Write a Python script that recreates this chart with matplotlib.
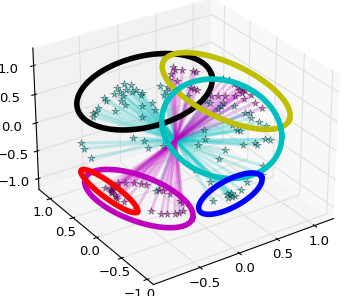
import numpy as np
import matplotlib
matplotlib.use("Agg")
import matplotlib.pyplot as plt
from matplotlib.colors import to_rgba
from mpl_toolkits.mplot3d import Axes3D

hub = (-.04, .037, .011)

cyan_x = [.02,-.07,-.06,0,.07,.05,.10,.14,.12,-.12,-.05,-.23,-.23,-.09,-.08,-.34,-.38,-.41,-.42,-.20,.08,.18,.18,.02,.34,.41,.37,.33,
          .55,.71,.69,.83,.80,.76,.92,.99,1.03,1.02,1.07,1.12,.81,.83,.86,.53,.49,1.04,1.09,.93,.40,.62,.81,.94,.52,.89,
          -.13,-.05,.43,.27,.18,.10,.06,.04,.07,.03,.08,-.12,
          -.37,-.29,-.86,-.86,-.83,-.28,-.14,-.40]
cyan_y = [1.07,1.08,1.03,1.01,1.02,.96,.95,.89,.88,1.06,.99,1.09,1.05,.96,.91,1.06,1.04,1.05,1.02,.93,.80,.75,.68,.71,.83,.77,.76,.74,
          .58,.39,.43,.31,.30,.30,.22,.10,.07,.03,-.05,-.12,.09,.03,0,.23,.16,-.21,-.25,-.18,.16,-.04,-.12,-.20,-.07,-.39,
          -.57,-.74,-1.0,-.96,-.98,-.98,-.95,-.92,-.97,-.96,-.94,-.89,
          .28,.19,.55,.50,.39,.11,.04,-.23]
cyan_z = [.32,.28,.24,.26,.31,.24,.26,.23,.20,.22,.19,.17,.13,.14,.09,.06,.02,0,-.04,.03,.08,.11,.03,-.05,.30,.29,.25,.20,
          .19,.11,.14,.11,.07,.05,.07,0,0,-.06,-.10,-.15,-.13,-.19,-.20,-.20,-.30,-.30,-.31,-.34,-.36,-.42,-.36,-.36,-.52,-.59,
          -.09,-.21,-.14,-.22,-.30,-.36,-.35,-.34,-.37,-.38,-.33,-.41,
          .03,0,-.03,-.09,-.19,-.09,-.07,-.56]

magenta_x = [.56,.49,.65,.67,.89,.94,.97,.99,1.02,1.03,1.0,.98,1.07,.98,1.06,1.10,.92,.70,.76,.82,.55,.57,.59,.46,.44,.39,.49,
             -.94,-.88,-.81,-.75,-.71,-.90,-.78,-.71,-.66,-.62,-.59,-.54,-.49,-.48,-.51,-.55,-.59,
             -.94,-.89,-.90,-.89,-.90,-.90,-.88,-.88,-.83,-.88]
magenta_y = [.71,.76,.64,.61,.39,.34,.29,.24,.19,.16,.17,.21,.10,.11,.02,-.06,.19,.34,.30,.25,.53,.50,.47,.66,.75,.72,.79,
             -.33,-.38,-.43,-.48,-.51,-.62,-.72,-.80,-.83,-.63,-.66,-.71,-.82,-.85,-.91,-.90,-.88,
             -.06,-.11,-.09,-.12,-.12,-.13,-.19,-.21,-.27,-.17]
magenta_z = [.57,.57,.56,.55,.47,.45,.41,.37,.35,.33,.31,.34,.28,.24,.20,.14,.28,.28,.28,.27,.37,.35,.34,.44,.52,.46,.60,
             -.10,-.10,-.10,-.11,-.12,-.37,-.39,-.42,-.42,-.17,-.18,-.21,-.28,-.30,-.39,-.41,-.42,
             -.37,-.39,-.38,-.40,-.41,-.42,-.47,-.49,-.52,-.45]

ring_colors = ["k", "y", "c", "b", "m", "r"]
ring_centers = [(.173,.888,.24), (.86,.29,.33), (.70,.135,-.175), (.06,-.954,-.322), (-.842,-.576,-.242), (-.924,-.12,-.387)]
ring_axis_a = [(.70,-.30,.182), (.432,-.605,-.333), (.512,-.43,-.09), (.348,-.069,.177), (.373,-.45,-.211), (.154,-.311,-.219)]
ring_axis_b = [(-.095,-.307,-.393), (-.23,-.109,-.28), (-.24,-.356,-.55), (.001,-.119,-.125), (-.161,-.097,-.219), (-.065,-.018,-.066)]

x_ticks = [-0.5, 0.0, 0.5, 1.0]
y_ticks = [-1.0, -0.5, 0.0, 0.5, 1.0]
z_ticks = [-1.0, -0.5, 0.0, 0.5, 1.0]

plt.rcParams["font.family"] = "DejaVu Sans"
plt.rcParams["font.size"] = 9.5
fig = plt.figure(figsize=(3.46, 2.96), dpi=100)
ax = fig.add_axes([-0.041, -0.048, 1.12, 1.16], projection="3d")
ax.computed_zorder = False
ax.view_init(elev=28.5, azim=-124)
ax.set_xlim(-1.08, 1.26)
ax.set_ylim(-1.12, 1.25)
ax.set_zlim(-1.2, 1.3)
ax.set_xticks(x_ticks)
ax.set_yticks(y_ticks)
ax.set_zticks(z_ticks)
ax.set_box_aspect((4, 4, 3), zoom=.98)
ax.tick_params(axis="x", pad=-3, labelsize=9.5, length=3)
ax.tick_params(axis="y", pad=-3, labelsize=9.5, length=3)
ax.tick_params(axis="z", pad=3, labelsize=9.5, length=3)
for axis in (ax.xaxis, ax.yaxis, ax.zaxis):
    axis._axinfo["grid"].update(color=(.88, .88, .88, 1), linewidth=.8)
    axis.line.set_linewidth(.8)
    axis.pane.set_edgecolor((1, 1, 1, 0))

hub_arr = np.array(hub)
z = 1
groups = [(cyan_x, cyan_y, cyan_z, "c"), (magenta_x, magenta_y, magenta_z, "m")]
for xs, ys, zs, col in groups:
    for a, b, c in zip(xs, ys, zs):
        ax.plot([hub[0], hub[0] + a], [hub[1], hub[1] + b], [hub[2], hub[2] + c],
                color=col, alpha=.22, lw=2.2, zorder=z, solid_capstyle="butt")
    z += 1
for xs, ys, zs, col in groups:
    ax.plot(np.array(xs) + hub[0], np.array(ys) + hub[1], np.array(zs) + hub[2], ls="none", marker="*", ms=5.5,
            mfc=to_rgba(col, .55), mec=(0, 0, 0, .55), mew=.4, zorder=3)

t = np.linspace(0, 2 * np.pi, 121)
for i, (col, c0, a0, b0) in enumerate(zip(ring_colors, ring_centers, ring_axis_a, ring_axis_b)):
    c0, a0, b0 = map(np.array, (c0, a0, b0))
    c0 = c0 + hub_arr
    pts = c0[:, None] + a0[:, None] * np.cos(t) + b0[:, None] * np.sin(t)
    ax.plot(pts[0], pts[1], pts[2], color=col, lw=4, zorder=4 + i)

fig.savefig("out.png", dpi=100)
